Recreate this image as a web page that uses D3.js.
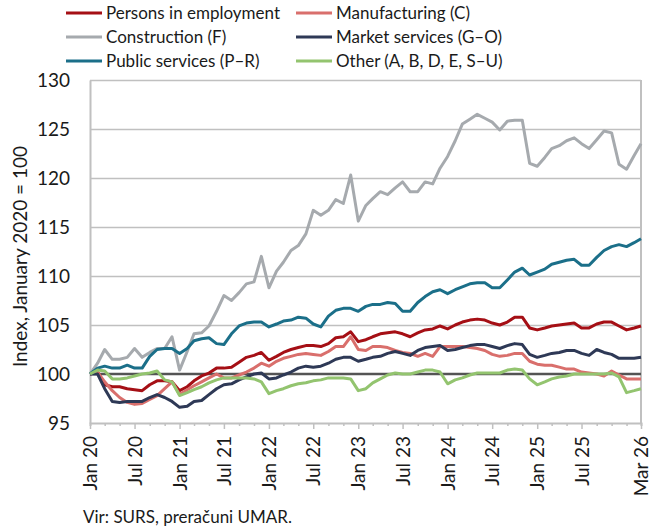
<!DOCTYPE html>
<html>
<head>
<meta charset="utf-8">
<script src="https://cdn.jsdelivr.net/npm/d3@7/dist/d3.min.js"></script>
<style>
  html, body { margin: 0; padding: 0; background: #fff; }
  svg { display: block; font-family: Lato, "Liberation Sans", Arial, sans-serif; }
</style>
</head>
<body>
<svg id="chart" width="654" height="531"></svg>
<script>
// ---- DATA (monthly, Jan 2020 – Mar 2026, index Jan 2020 = 100) ----
const startMonth = "2020-01";
const endMonth = "2026-03";

const personsInEmployment = [100.0,100.2,98.9,98.7,98.7,98.5,98.4,98.3,98.9,99.3,99.3,99.2,
  98.3,98.7,99.3,99.8,100.1,100.6,100.6,100.7,101.2,101.7,101.9,102.2,
  101.4,101.8,102.2,102.5,102.7,102.9,102.9,102.8,103.1,103.7,103.8,104.3,
  103.3,103.5,103.8,104.1,104.2,104.3,104.1,103.8,104.2,104.5,104.6,104.9,
  104.6,105.0,105.3,105.5,105.6,105.5,105.2,105.0,105.3,105.8,105.8,104.7,
  104.5,104.7,104.9,105.0,105.1,105.2,104.7,104.7,105.1,105.3,105.3,104.9,
  104.5,104.7,104.9];

const manufacturing = [100.0,100.2,99.2,98.3,97.6,97.1,96.9,97.0,97.4,97.8,98.5,99.2,
  97.9,98.4,98.8,99.2,99.6,100.0,99.6,99.6,99.9,100.2,100.6,101.1,
  100.8,101.3,101.6,101.8,102.0,102.1,102.0,101.9,102.3,102.8,102.8,103.8,
  102.5,102.4,102.8,102.8,102.7,102.4,102.2,102.1,101.8,102.1,101.8,102.8,
  102.8,102.8,102.8,102.7,102.6,102.4,102.0,101.8,101.9,102.1,102.1,101.3,
  101.0,100.9,100.9,100.7,100.5,100.5,100.2,100.1,100.0,99.8,100.3,99.9,
  99.5,99.5,99.5];

const construction = [100.0,101.1,102.5,101.5,101.5,101.7,102.6,101.7,102.2,102.6,102.6,103.8,
  100.4,102.3,104.1,104.2,104.9,106.4,108.0,107.5,108.3,109.2,109.4,112.0,
  108.8,110.5,111.4,112.6,113.1,114.3,116.7,116.2,116.7,117.8,117.4,120.3,
  115.6,117.2,117.9,118.6,118.3,119.0,119.6,118.6,118.6,119.6,119.4,121.0,
  122.2,123.8,125.5,126.0,126.5,126.1,125.7,124.9,125.8,125.9,125.9,121.5,
  121.2,122.1,123.0,123.3,123.8,124.1,123.5,123.0,123.9,124.8,124.6,121.4,
  120.9,122.3,123.5];

const marketServices = [100.0,100.0,98.5,97.2,97.1,97.2,97.2,97.2,97.6,97.9,97.6,97.2,
  96.6,96.7,97.2,97.3,97.9,98.5,98.9,99.0,99.4,99.7,100.0,100.1,
  99.5,99.6,99.9,100.2,100.6,100.8,100.7,100.8,101.1,101.5,101.7,101.7,
  101.3,101.5,101.7,101.8,102.1,102.3,102.1,101.9,102.4,102.7,102.8,102.9,
  102.4,102.5,102.7,102.9,103.0,103.0,102.8,102.6,102.9,103.1,103.0,102.0,
  101.7,101.9,102.1,102.2,102.4,102.4,102.1,101.9,102.5,102.2,102.0,101.6,
  101.6,101.6,101.7];

const publicServices = [100.0,100.6,100.8,100.6,100.6,100.9,100.6,100.6,101.8,102.5,102.6,102.6,
  102.1,102.6,103.4,103.6,103.7,103.1,103.0,104.1,104.9,105.2,105.3,105.3,
  104.8,105.1,105.4,105.5,105.8,105.7,105.1,104.8,105.9,106.5,106.7,106.7,
  106.4,106.9,107.1,107.1,107.3,107.2,106.4,106.4,107.3,107.9,108.4,108.6,
  108.2,108.6,108.9,109.2,109.3,109.3,108.8,108.8,109.6,110.4,110.8,110.1,
  110.4,110.7,111.2,111.4,111.6,111.7,111.1,111.1,111.9,112.6,113.0,113.2,
  113.0,113.4,113.8];

const other = [100.0,100.4,100.3,99.5,99.5,99.6,99.8,100.0,100.1,100.3,99.4,99.2,
  97.8,98.1,98.4,98.7,99.1,99.4,99.6,99.6,99.6,99.6,99.5,99.2,
  98.0,98.3,98.5,98.8,99.0,99.1,99.3,99.4,99.6,99.6,99.6,99.5,
  98.3,98.5,99.1,99.5,99.9,100.1,100.0,100.0,100.2,100.4,100.4,100.2,
  99.0,99.4,99.6,99.9,100.1,100.1,100.1,100.1,100.4,100.5,100.4,99.5,
  98.9,99.2,99.5,99.7,99.8,100.0,100.0,100.0,100.0,100.0,100.1,99.7,
  98.1,98.3,98.5];

const seriesNames = ["Persons in employment","Manufacturing (C)","Construction (F)",
  "Market services (G–O)","Public services (P–R)","Other (A, B, D, E, S–U)"];
const seriesValues = [personsInEmployment, manufacturing, construction, marketServices, publicServices, other];
const seriesColors = ["#a50f15","#d96f6c","#a6aaae","#2e3956","#1b6f89","#93c46f"];

const yTicks = [95,100,105,110,115,120,125,130];
const xLabelMonths = ["2020-01","2020-07","2021-01","2021-07","2022-01","2022-07","2023-01",
  "2023-07","2024-01","2024-07","2025-01","2025-07","2026-03"];
const xLabels = ["Jan 20","Jul 20","Jan 21","Jul 21","Jan 22","Jul 22","Jan 23",
  "Jul 23","Jan 24","Jul 24","Jan 25","Jul 25","Mar 26"];
const yTitle = "Index, January 2020 = 100";
const sourceText = "Vir: SURS, preračuni UMAR.";

// ---- CHART ----
(function () {
const parse = d3.utcParse("%Y-%m");
const fmt = d3.utcFormat("%Y-%m");
const months = d3.utcMonth.range(parse(startMonth), d3.utcMonth.offset(parse(endMonth), 1));
const minorTicks = d3.utcMonth.every(2).range(parse(startMonth), d3.utcMonth.offset(parse(endMonth), 1));

const svg = d3.select("#chart");
const pL = 90, pR = 641, pT = 80, pB = 423;

const x = d3.scaleUtc().domain([months[0], months[months.length - 1]]).range([pL, pR]);
const y = d3.scaleLinear().domain([95, 130]).range([pB, pT]);

// gridlines
svg.append("g")
  .attr("transform", `translate(${pL},0)`)
  .call(d3.axisLeft(y).tickValues(yTicks.filter(v => v !== 95 && v !== 100)).tickSize(-(pR - pL)).tickFormat(""))
  .call(g => g.select(".domain").remove())
  .call(g => g.selectAll("line").attr("stroke", "#c0c0c0").attr("stroke-width", 1.6));

// right border
svg.append("line").attr("x1", pR).attr("x2", pR).attr("y1", pT).attr("y2", pB)
  .attr("stroke", "#c0c0c0").attr("stroke-width", 2);

// y axis labels + axis line
svg.append("g")
  .attr("transform", `translate(${pL},0)`)
  .call(d3.axisLeft(y).tickValues(yTicks).tickSize(0).tickPadding(20).tickFormat(d3.format("d")))
  .call(g => g.select(".domain").attr("stroke", "#c0c0c0").attr("stroke-width", 2))
  .call(g => g.selectAll("text").attr("font-size", 19).attr("fill", "#1a1a1a")
    .attr("font-family", "Lato, 'Liberation Sans', Arial, sans-serif"));

// x axis
const labelMap = new Map(xLabelMonths.map((m, i) => [m, xLabels[i]]));
const xg = svg.append("g")
  .attr("transform", `translate(0,${pB})`)
  .call(d3.axisBottom(x).tickValues(minorTicks).tickSize(3).tickFormat(d => labelMap.get(fmt(d)) || ""));
xg.select(".domain").attr("stroke", "#c0c0c0").attr("stroke-width", 2);
xg.selectAll(".tick line").attr("stroke", "#c0c0c0").attr("stroke-width", 1.5)
  .attr("y2", d => labelMap.has(fmt(d)) ? 6 : 3);
xg.selectAll(".tick text")
  .attr("font-size", 19).attr("fill", "#1a1a1a")
  .attr("font-family", "Lato, 'Liberation Sans', Arial, sans-serif")
  .attr("transform", "rotate(-90)")
  .attr("text-anchor", "end")
  .attr("x", -13).attr("y", 0).attr("dy", "0.35em");

// 100 baseline
svg.append("line").attr("x1", pL).attr("x2", pR).attr("y1", y(100)).attr("y2", y(100))
  .attr("stroke", "#545454").attr("stroke-width", 2.5);

// series lines
const line = d3.line().x((d, i) => x(months[i])).y(d => y(d));
seriesValues.forEach((vals, k) => {
  svg.append("path").datum(vals)
    .attr("fill", "none").attr("stroke", seriesColors[k]).attr("stroke-width", 3)
    .attr("stroke-linejoin", "round").attr("d", line);
});

// y title
svg.append("text")
  .attr("transform", `translate(27,${(pT + pB) / 2 + 5}) rotate(-90)`)
  .attr("text-anchor", "middle").attr("font-size", 19).attr("fill", "#1a1a1a")
  .text(yTitle);

// legend
const legCols = [66, 296], legRows = [13, 37, 61];
const leg = svg.append("g");
seriesNames.forEach((name, k) => {
  const cx = legCols[k % 2], cy = legRows[Math.floor(k / 2)];
  leg.append("line").attr("x1", cx).attr("x2", cx + 36).attr("y1", cy).attr("y2", cy)
    .attr("stroke", seriesColors[k]).attr("stroke-width", 3);
  leg.append("text").attr("x", cx + 40).attr("y", cy).attr("dy", "0.35em")
    .attr("font-size", 17).attr("fill", "#1a1a1a").text(name);
});

// source
svg.append("text").attr("x", 83).attr("y", 523).attr("font-size", 17).attr("fill", "#1a1a1a")
  .text(sourceText);
})();
</script>
</body>
</html>
